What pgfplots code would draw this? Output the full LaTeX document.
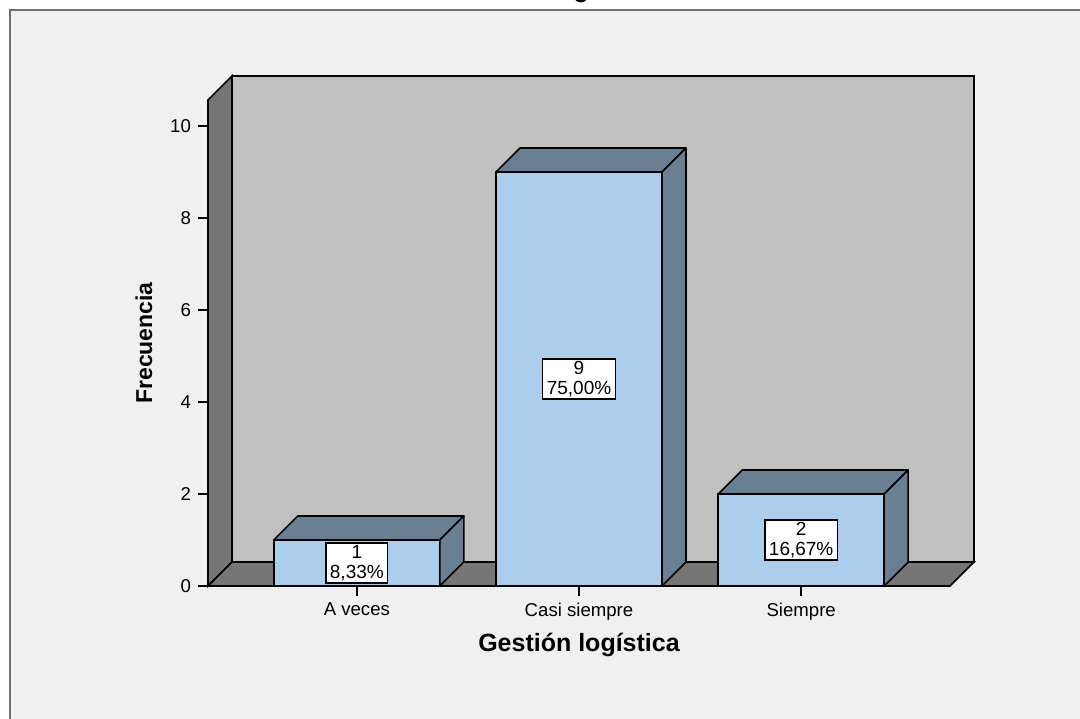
\documentclass[border=0pt]{standalone}
\usepackage{pgfplots}
\pgfplotsset{compat=1.18}
\usepackage{pgfplotstable}
\usepackage{fontspec}
\setmainfont{Liberation Sans}
\definecolor{bgc}{HTML}{F0F0F0}
\definecolor{backwall}{HTML}{C0C0C0}
\definecolor{wallgray}{HTML}{767676}
\definecolor{barblue}{HTML}{ACCEEC}
\definecolor{bardark}{HTML}{6A7F92}
\definecolor{framec}{HTML}{6E6E6E}

\pgfplotstableread{
x y pct
0 1 8.33
1 9 75.00
2 2 16.67
}\datatable

\begin{document}
\begin{tikzpicture}
\useasboundingbox (0,0) rectangle (540pt,359pt);
\clip (0,0) rectangle (540pt,359pt);
\fill[white] (0,0) rectangle (540pt,359pt);
\draw[framec, line width=1pt, fill=bgc] (5pt,-10pt) rectangle (560pt,354pt);
\node[anchor=base, font=\bfseries\fontsize{12.5}{14}\selectfont] at (276pt,360pt) {Gestión logística};
\begin{axis}[
  at={(104pt,66pt)}, anchor=south west,
  scale only axis, width=371pt, height=243pt,
  xmin=-0.67, xmax=2.67, ymin=0, ymax=10.565,
  clip=false,
  axis x line*=bottom, axis y line*=left,
  axis line style={black, line width=0.8pt},
  xtick={0,1,2}, xticklabels={A veces, Casi siempre, Siempre},
  ytick={0,2,4,6,8,10},
  tick align=outside, major tick length=5pt,
  tick style={black, line width=0.8pt},
  ticklabel style={font=\fontsize{9.3}{10}\selectfont},
  /pgf/number format/assume math mode=true,
  xlabel={Gestión logística},
  ylabel={Frecuencia},
  xlabel style={at={(axis description cs:0.5,0)}, anchor=center, yshift=-29.5pt, font=\bfseries\fontsize{12.5}{14}\selectfont},
  ylabel style={at={(axis description cs:-0.0863,0.5)}, anchor=center, font=\bfseries\fontsize{11.5}{13}\selectfont},
]
% back wall
\draw[fill=backwall, draw=black, line width=0.8pt] ([shift={(12pt,12pt)}]rel axis cs:0,0) rectangle ([shift={(12pt,12pt)}]rel axis cs:1,1);
% left wall
\draw[fill=wallgray, draw=black, line width=0.8pt] (rel axis cs:0,0) -- (rel axis cs:0,1) -- ([shift={(12pt,12pt)}]rel axis cs:0,1) -- ([shift={(12pt,12pt)}]rel axis cs:0,0) -- cycle;
% floor
\draw[fill=wallgray, draw=black, line width=0.8pt] (rel axis cs:0,0) -- (rel axis cs:1,0) -- ([shift={(12pt,12pt)}]rel axis cs:1,0) -- ([shift={(12pt,12pt)}]rel axis cs:0,0) -- cycle;

\addplot[ybar, bar width=83pt, bar shift=0pt, fill=barblue, draw=black, line width=0.8pt] table[x=x, y=y] {\datatable};

\addplot[scatter, only marks, mark=*, mark size=0pt,
  mark options={draw=none, fill=none},
  visualization depends on={\thisrow{y} \as \yval},
  visualization depends on={\thisrow{pct} \as \pct},
  scatter/@pre marker code/.code={%
    \pgfmathsetlengthmacro\h{\yval*23pt}%
    \draw[fill=bardark, draw=black, line width=0.8pt, line join=round] (-41.5pt,0pt) -- (-29.5pt,12pt) -- (53.5pt,12pt) -- (41.5pt,0pt) -- cycle;
    \draw[fill=bardark, draw=black, line width=0.8pt, line join=round] (41.5pt,0pt) -- (53.5pt,12pt) -- (53.5pt,12pt-\h) -- (41.5pt,-\h) -- cycle;
    \node[draw=black, line width=0.6pt, fill=white, align=center, inner xsep=2pt, inner ysep=1.2pt, font=\fontsize{9.5}{9.8}\selectfont] at (0pt,-0.5*\h) {\pgfmathprintnumber{\yval}\\\pgfmathprintnumber[fixed,fixed zerofill,precision=2,use comma]{\pct}\%};
  },
  scatter/@post marker code/.code={},
] table[x=x, y=y] {\datatable};
\end{axis}
\end{tikzpicture}
\end{document}
